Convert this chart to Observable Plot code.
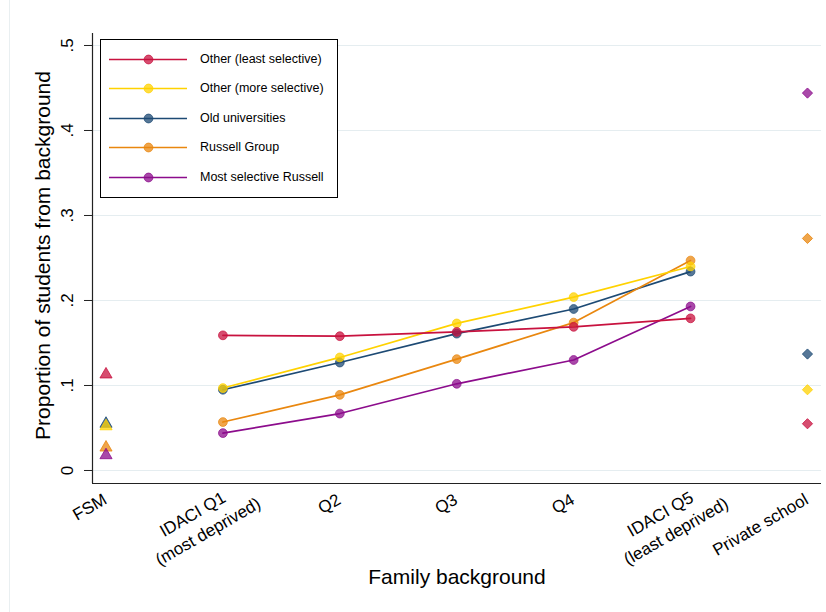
<!DOCTYPE html>
<html>
<head>
<meta charset="utf-8">
<script src="https://cdn.jsdelivr.net/npm/d3@7"></script>
<script src="https://cdn.jsdelivr.net/npm/@observablehq/plot@0.6"></script>
<style>
  html, body { margin: 0; padding: 0; background: #fff; }
  #wrap { position: relative; width: 826px; height: 612px; overflow: hidden; font-family: "Liberation Sans", Arial, sans-serif; }
  #edge { position: absolute; left: 9px; top: 0; height: 612px; border-left: 1px solid #e9eff1; }
  #legend { position: absolute; left: 100px; top: 39px; width: 236px; height: 153px; border: 1px solid #000; background: #fff; box-sizing: content-box; padding-top: 4px; }
  .row { display: flex; align-items: center; height: 29.5px; font-size: 12.5px; color: #000; }
  .row svg { margin-left: 8px; margin-right: 13px; }
</style>
</head>
<body>
<div id="wrap"><div id="edge"></div></div>
<script>
// ---- data ----
const series = ["Other (least selective)", "Other (more selective)", "Old universities", "Russell Group", "Most selective Russell"];
const colors = ["#c8123f", "#ffd200", "#1d4a74", "#e9870f", "#8c0c8c"];
const categories = ["FSM", "IDACI Q1\n(most deprived)", "Q2", "Q3", "Q4", "IDACI Q5\n(least deprived)", "Private school"];
const idaciCats = [1, 2, 3, 4, 5];

const otherLeast   = [0.159, 0.158, 0.163, 0.169, 0.179];
const otherMore    = [0.097, 0.133, 0.173, 0.204, 0.240];
const oldUnis      = [0.095, 0.127, 0.161, 0.190, 0.234];
const russell      = [0.057, 0.089, 0.131, 0.174, 0.247];
const mostSelect   = [0.044, 0.067, 0.102, 0.130, 0.193];

const fsmValues     = [0.113, 0.052, 0.055, 0.027, 0.018];
const privateValues = [0.055, 0.095, 0.137, 0.273, 0.444];

const yTicks = [0, 0.1, 0.2, 0.3, 0.4, 0.5];

// ---- tables ----
const idaciSeries = [otherLeast, otherMore, oldUnis, russell, mostSelect];
const drawOrder = [2, 3, 4, 1, 0];
const lineData = drawOrder.flatMap(s => idaciSeries[s].map((v, j) => ({series: series[s], x: idaciCats[j], y: v})));
const fsmData = drawOrder.map(s => ({series: series[s], x: 0, y: fsmValues[s]}));
const privData = drawOrder.map(s => ({series: series[s], x: 6, y: privateValues[s]}));
const labelRows = categories.map((c, i) => ({i, lines: c.split("\n")}));
const singles = labelRows.filter(d => d.lines.length === 1);
const doubles = labelRows.filter(d => d.lines.length === 2);

const xDomain = [-0.1155, 6.12];
const yDomain = [-0.0153, 0.5141];
const fmt = d => d === 0 ? "0" : String(d).replace(/^0/, "");
const atBottom = () => yDomain[0];

const chart = Plot.plot({
  width: 826, height: 612,
  marginLeft: 92, marginRight: 5, marginTop: 33, marginBottom: 129,
  x: {domain: xDomain, axis: null},
  y: {domain: yDomain, axis: null},
  color: {domain: series, range: colors},
  style: {fontFamily: "'Liberation Sans', Arial, sans-serif", background: "transparent", overflow: "visible"},
  marks: [
    Plot.ruleY(yTicks, {stroke: "#e5edf0", strokeWidth: 1.2}),
    Plot.ruleX([xDomain[0]], {stroke: "#222", strokeWidth: 1.2}),
    Plot.ruleY([yDomain[0]], {stroke: "#222", strokeWidth: 1.2}),
    Plot.axisY({ticks: yTicks, tickSize: 8, tickFormat: () => "", stroke: "#222", label: null}),
    Plot.text(yTicks, {y: d => d, text: fmt, frameAnchor: "left", dx: -20, rotate: -90, textAnchor: "middle", lineAnchor: "bottom", fontSize: 17, fill: "#000"}),
    Plot.text(["Proportion of students from background"], {frameAnchor: "left", dx: -49, dy: -3, rotate: -90, textAnchor: "middle", lineAnchor: "middle", fontSize: 21, fill: "#000"}),
    Plot.text(["Family background"], {frameAnchor: "bottom", dy: 94, textAnchor: "middle", lineAnchor: "middle", fontSize: 21, fill: "#000"}),
    Plot.text(singles, {x: "i", y: atBottom, text: d => d.lines[0], dx: -4, dy: 9, rotate: -30, textAnchor: "end", lineAnchor: "top", fontSize: 17, fill: "#000"}),
    Plot.text(doubles, {x: "i", y: atBottom, text: d => d.lines[0], dx: -2, dy: 7, rotate: -30, textAnchor: "end", lineAnchor: "top", fontSize: 17, fill: "#000"}),
    Plot.text(doubles, {x: "i", y: atBottom, text: d => d.lines[1], dx: 33, dy: 13, rotate: -30, textAnchor: "end", lineAnchor: "top", fontSize: 17, fill: "#000"}),
    Plot.line(lineData, {x: "x", y: "y", z: "series", stroke: "series", strokeWidth: 1.7}),
    Plot.dot(lineData, {x: "x", y: "y", fill: "series", stroke: "series", r: 4.4, fillOpacity: 0.75, strokeOpacity: 0.9, strokeWidth: 0.8}),
    Plot.dot(fsmData, {x: "x", y: "y", fill: "series", stroke: "series", symbol: "triangle", r: 4.5, fillOpacity: 0.75, strokeWidth: 0.8}),
    Plot.dot(privData, {x: "x", y: "y", fill: "series", stroke: "series", symbol: "diamond2", r: 4.6, fillOpacity: 0.75, strokeWidth: 0.8})
  ]
});
const wrap = document.getElementById("wrap");
wrap.appendChild(chart);
chart.style.position = "absolute"; chart.style.left = "0"; chart.style.top = "0";

// legend
const legend = document.createElement("div");
legend.id = "legend";
series.forEach((s, i) => {
  const row = document.createElement("div");
  row.className = "row";
  const sw = Plot.plot({
    width: 78, height: 12, margin: 0,
    x: {domain: [0, 1], axis: null}, y: {domain: [0, 1], axis: null},
    style: {background: "transparent", overflow: "visible"},
    marks: [
      Plot.ruleY([0.5], {stroke: colors[i], strokeWidth: 1.7}),
      Plot.dot([[0.5, 0.5]], {fill: colors[i], stroke: colors[i], r: 4.4, fillOpacity: 0.75, strokeWidth: 0.8})
    ]
  });
  row.appendChild(sw);
  const t = document.createElement("span");
  t.textContent = s;
  row.appendChild(t);
  legend.appendChild(row);
});
wrap.appendChild(legend);
</script>
</body>
</html>
